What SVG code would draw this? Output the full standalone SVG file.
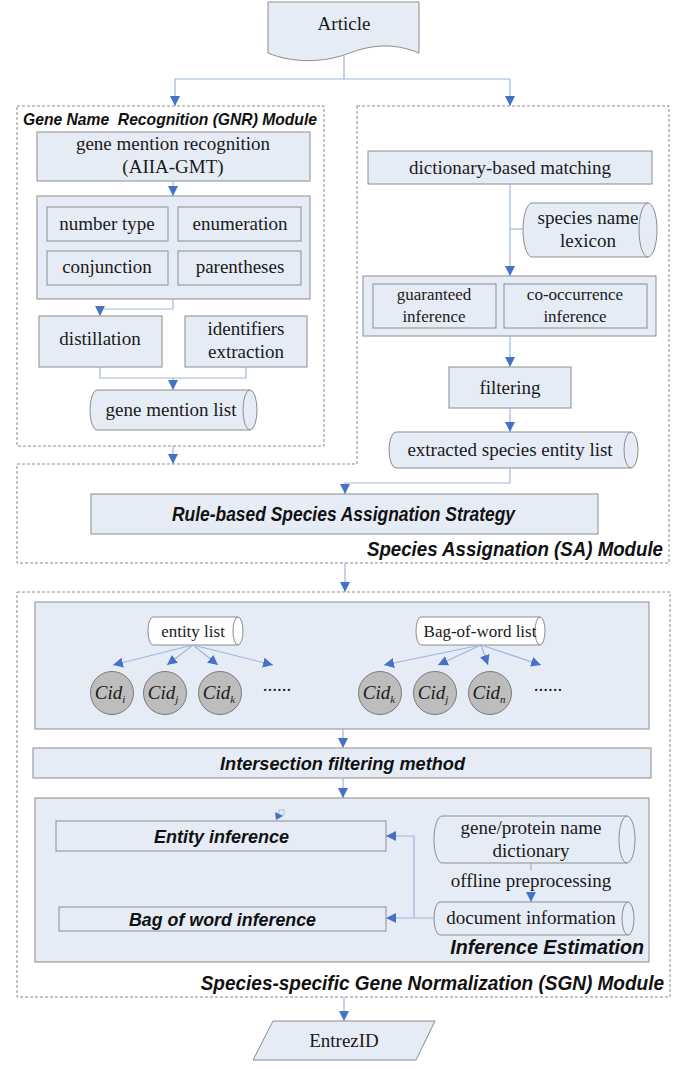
<svg xmlns="http://www.w3.org/2000/svg" width="685" height="1069" viewBox="0 0 685 1069">
<style>
.box{fill:#e6ecf6;stroke:#8c8c8c;stroke-width:1}
.wbox{fill:#ffffff;stroke:#8c8c8c;stroke-width:1}
.cyl{fill:#e6ecf6;stroke:#8c8c8c;stroke-width:1}
.inner{fill:none;stroke:#8c8c8c;stroke-width:1}
.dash{fill:none;stroke:#8a8a8a;stroke-width:1;stroke-dasharray:3 2}
.ln{fill:none;stroke:#9db5dc;stroke-width:1.2}
.ar{fill:none;stroke:#9db5dc;stroke-width:1.2;marker-end:url(#ah)}
.cid{fill:#bdbdbd;stroke:#7a7a7a;stroke-width:1}
.t{font-family:"Liberation Serif",serif;font-size:19px;fill:#1a1a1a;text-anchor:middle}
.s{font-family:"Liberation Serif",serif;font-size:17px;fill:#1a1a1a;text-anchor:middle}
.ci{font-family:"Liberation Serif",serif;font-size:19px;font-style:italic;fill:#1a1a1a;text-anchor:middle}
.b{font-family:"Liberation Sans",sans-serif;font-weight:bold;font-style:italic;fill:#111111}
</style>
<defs>
<marker id="ah" viewBox="0 0 10 10" refX="10" refY="5" markerWidth="10" markerHeight="10" markerUnits="userSpaceOnUse" orient="auto">
<path d="M0,0 L10,5 L0,10 z" fill="#4472c4"/>
</marker>
</defs>

<!-- module frames -->
<g id="gnr-module">
<rect class="dash" x="17" y="106" width="307" height="340"/>
<text class="b" x="23" y="125" font-size="16.5" textLength="294" lengthAdjust="spacingAndGlyphs" xml:space="preserve">Gene Name  Recognition (GNR) Module</text>
</g>
<g id="sa-module">
<path class="dash" d="M357,106 H669 V563 H17 V464 H357 Z"/>
<text class="b" x="0" y="0" font-size="21" text-anchor="end" transform="translate(663,556) scale(0.89,1)">Species Assignation (SA) Module</text>
</g>
<g id="sgn-module">
<rect class="dash" x="17" y="592" width="653" height="405"/>
<text class="b" x="0" y="0" font-size="21" text-anchor="end" transform="translate(664,990) scale(0.905,1)">Species-specific Gene Normalization (SGN) Module</text>
</g>

<!-- nodes -->
<g id="article">
<path class="box" d="M268,2 H419 V53 C395,43 372,44 347,54 C322,63 292,63 268,53 Z"/>
<text class="t" x="344" y="30">Article</text>
</g>

<g id="gmr">
<rect class="box" x="37" y="132" width="273" height="49"/>
<text class="t" x="173" y="150">gene mention recognition</text>
<text class="t" x="173" y="173">(AIIA-GMT)</text>
</g>

<g id="rules">
<rect class="box" x="37" y="196" width="273" height="103"/>
<g id="number-type"><rect class="box" x="47" y="207" width="121" height="34"/><text class="t" x="107" y="230">number type</text></g>
<g id="enumeration"><rect class="box" x="178" y="207" width="123" height="34"/><text class="t" x="240" y="230">enumeration</text></g>
<g id="conjunction"><rect class="box" x="47" y="251" width="121" height="34"/><text class="t" x="107" y="273">conjunction</text></g>
<g id="parentheses"><rect class="box" x="178" y="251" width="123" height="34"/><text class="t" x="240" y="273">parentheses</text></g>
</g>

<g id="distillation">
<rect class="box" x="39" y="316" width="123" height="51"/>
<text class="t" x="100" y="345">distillation</text>
</g>
<g id="identifiers">
<rect class="box" x="185" y="316" width="122" height="51"/>
<text class="t" x="246" y="335">identifiers</text>
<text class="t" x="246" y="358">extraction</text>
</g>

<g id="gene-mention-list">
<path class="cyl" d="M97,390 H250 A7,20 0 0 1 250,430 H97 A7,20 0 0 1 97,390 Z"/>
<path class="inner" d="M250,390 A7,20 0 0 0 250,430"/>
<text class="t" x="171" y="416">gene mention list</text>
</g>

<g id="dict-matching">
<rect class="box" x="368" y="151" width="284" height="33"/>
<text class="t" x="510" y="174">dictionary-based matching</text>
</g>

<g id="species-lexicon">
<path class="cyl" d="M532,203 H648 A9,27 0 0 1 648,257 H532 A9,27 0 0 1 532,203 Z"/>
<path class="inner" d="M648,203 A9,27 0 0 0 648,257"/>
<text class="t" x="588" y="224">species name</text>
<text class="t" x="588" y="247">lexicon</text>
</g>

<g id="inference-group">
<rect class="box" x="363" y="276" width="293" height="60"/>
<g id="guaranteed"><rect class="box" x="373" y="284" width="123" height="44"/><text class="s" x="434" y="300">guaranteed</text><text class="s" x="434" y="322">inference</text></g>
<g id="co-occurrence"><rect class="box" x="504" y="284" width="143" height="44"/><text class="s" x="575" y="300">co-occurrence</text><text class="s" x="575" y="322">inference</text></g>
</g>

<g id="filtering">
<rect class="box" x="449" y="367" width="122" height="41"/>
<text class="t" x="510" y="394">filtering</text>
</g>

<g id="species-entity-list">
<path class="cyl" d="M396,432 H631 A7,18 0 0 1 631,468 H396 A7,18 0 0 1 396,432 Z"/>
<path class="inner" d="M631,432 A7,18 0 0 0 631,468"/>
<text class="t" x="510" y="456">extracted species entity list</text>
</g>

<g id="rule-based">
<rect class="box" x="91" y="494" width="507" height="40"/>
<text class="b" x="172" y="521" font-size="20" textLength="343" lengthAdjust="spacingAndGlyphs">Rule-based Species Assignation Strategy</text>
</g>

<g id="candidate-group">
<rect class="box" x="35" y="602" width="614" height="127"/>
</g>
<g id="entity-list">
<path class="wbox" d="M153,617 H238 A5,14 0 0 1 238,645 H153 A5,14 0 0 1 153,617 Z"/>
<path class="inner" d="M238,617 A5,14 0 0 0 238,645"/>
<text class="s" x="193" y="637">entity list</text>
</g>
<g id="bow-list">
<path class="wbox" d="M421,617 H540 A5,14 0 0 1 540,645 H421 A5,14 0 0 1 421,617 Z"/>
<path class="inner" d="M540,617 A5,14 0 0 0 540,645"/>
<text class="s" x="480" y="637">Bag-of-word list</text>
</g>
<g id="cid-i"><ellipse class="cid" cx="112" cy="693" rx="21.5" ry="21.5"/><text class="ci" x="110" y="699">Cid<tspan font-size="11" dy="4">i</tspan></text></g>
<g id="cid-j"><ellipse class="cid" cx="165" cy="693" rx="21.5" ry="21.5"/><text class="ci" x="163" y="699">Cid<tspan font-size="11" dy="4">j</tspan></text></g>
<g id="cid-k"><ellipse class="cid" cx="220" cy="693" rx="21.5" ry="21.5"/><text class="ci" x="219" y="699">Cid<tspan font-size="11" dy="4">k</tspan></text></g>
<text class="t" x="277" y="691">......</text>
<g id="cid-k2"><ellipse class="cid" cx="380" cy="693" rx="21.5" ry="21.5"/><text class="ci" x="379" y="699">Cid<tspan font-size="11" dy="4">k</tspan></text></g>
<g id="cid-j2"><ellipse class="cid" cx="435" cy="693" rx="21.5" ry="21.5"/><text class="ci" x="433" y="699">Cid<tspan font-size="11" dy="4">j</tspan></text></g>
<g id="cid-n"><ellipse class="cid" cx="490" cy="693" rx="21.5" ry="21.5"/><text class="ci" x="489" y="699">Cid<tspan font-size="11" dy="4">n</tspan></text></g>
<text class="t" x="548" y="691">......</text>

<g id="intersection">
<rect class="box" x="33" y="748" width="618" height="30"/>
<text class="b" x="220" y="770" font-size="19" textLength="245" lengthAdjust="spacingAndGlyphs">Intersection filtering method</text>
</g>

<g id="inference-estimation">
<rect class="box" x="35" y="798" width="614" height="164"/>
<text class="b" x="0" y="0" font-size="20" text-anchor="end" transform="translate(644,954) scale(0.985,1)">Inference Estimation</text>
</g>
<g id="entity-inference">
<rect class="box" x="56" y="821" width="330" height="30"/>
<text class="b" x="154" y="843" font-size="19" textLength="135" lengthAdjust="spacingAndGlyphs">Entity inference</text>
</g>
<g id="bow-inference">
<rect class="box" x="59" y="907" width="327" height="24"/>
<text class="b" x="129" y="926" font-size="19" textLength="187" lengthAdjust="spacingAndGlyphs">Bag of word inference</text>
</g>
<g id="gene-dictionary">
<path class="cyl" d="M442,816 H627 A8,23.5 0 0 1 627,863 H442 A8,23.5 0 0 1 442,816 Z"/>
<path class="inner" d="M627,816 A8,23.5 0 0 0 627,863"/>
<text class="t" x="531" y="834">gene/protein name</text>
<text class="t" x="531" y="857">dictionary</text>
</g>
<text class="t" x="531" y="887">offline preprocessing</text>
<g id="document-information">
<path class="cyl" d="M440,902 H628 A6,16.5 0 0 1 628,935 H440 A6,16.5 0 0 1 440,902 Z"/>
<path class="inner" d="M628,902 A6,16.5 0 0 0 628,935"/>
<text class="t" x="531" y="924">document information</text>
</g>

<g id="entrezid">
<path class="box" d="M273,1021 H435 L416,1060 H253 Z"/>
<text class="t" x="344" y="1047">EntrezID</text>
</g>

<!-- connectors -->
<g id="connectors">
<path class="ln" d="M344,56 V79 M175,79 H510"/>
<path class="ar" d="M175,79 V106"/>
<path class="ar" d="M510,79 V106"/>
<path class="ar" d="M173,181 V196"/>
<path class="ar" d="M173,299 V309 H100 V316"/>
<path class="ln" d="M100,367 V378 H246 V367"/>
<path class="ar" d="M173,378 V390"/>
<path class="ar" d="M173,446 V464"/>
<path class="ar" d="M510,184 V276"/>
<path class="ln" d="M510,229 H523"/>
<path class="ar" d="M510,336 V367"/>
<path class="ar" d="M510,408 V432"/>
<path class="ar" d="M510,468 V483 H345 V494"/>
<path class="ar" d="M345,563 V592"/>
<path class="ar" d="M193,645 L113,665"/>
<path class="ar" d="M193,645 L167,665"/>
<path class="ar" d="M193,645 L218,665"/>
<path class="ar" d="M193,645 L273,665"/>
<path class="ar" d="M481,645 L384,665"/>
<path class="ar" d="M481,645 L438,665"/>
<path class="ar" d="M481,645 L488,665"/>
<path class="ar" d="M481,645 L541,665"/>
<path class="ar" d="M343,729 V748"/>
<path class="ar" d="M343,778 V798"/>
<path class="ar" d="M434,918 H386"/>
<path class="ar" d="M414,918 V836 H386"/>
<path class="ln" d="M531,863 V870"/>
<path class="ar" d="M531,893 V902"/>
<path class="ar" d="M344,997 V1021"/>
<rect x="279" y="810" width="5" height="5" fill="none" stroke="#9db5dc" stroke-width="0.8"/>
<path d="M275,812 L283,816 L276,820 z" fill="#4472c4"/>
</g>
</svg>
